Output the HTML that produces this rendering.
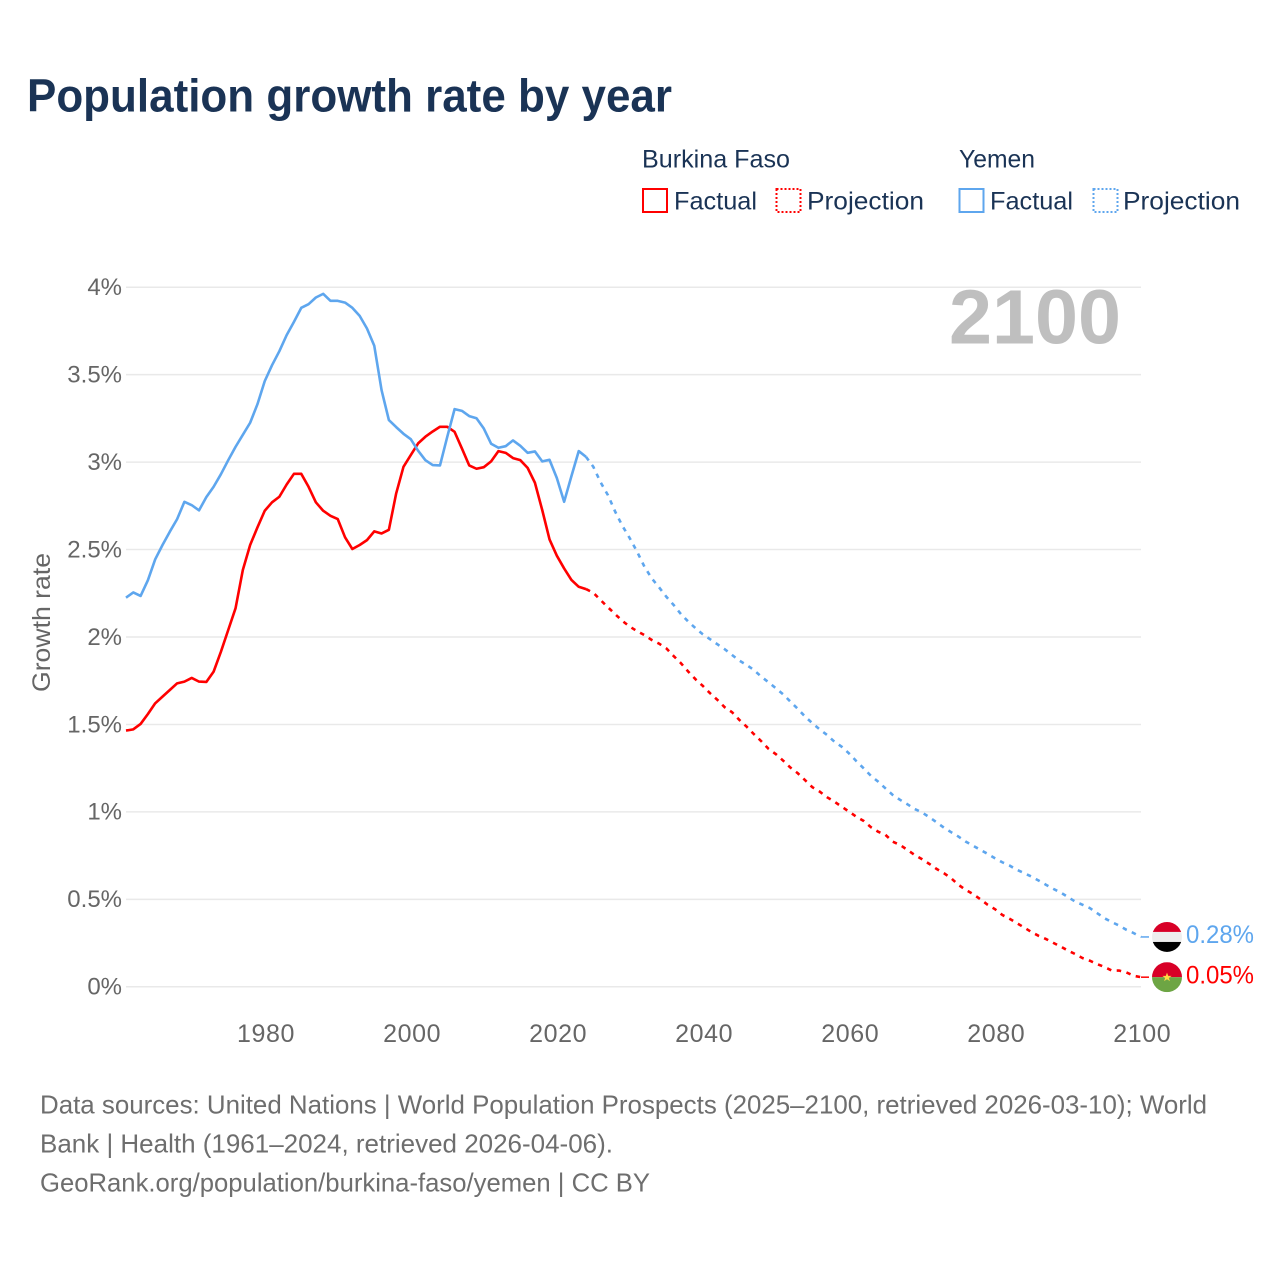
<!DOCTYPE html>
<html lang="en">
<head>
<meta charset="utf-8">
<title>Population growth rate by year</title>
<style>
html,body{margin:0;padding:0;background:#fff}
svg{display:block}
text{font-family:"Liberation Sans",sans-serif}
</style>
</head>
<body>
<svg id="chart" xmlns="http://www.w3.org/2000/svg" width="1280" height="1280" viewBox="0 0 1280 1280">
  <rect x="0" y="0" width="1280" height="1280" fill="#ffffff"/>
  <text x="27" y="111.5" font-size="46" font-weight="700" fill="#1a3355" textLength="645" lengthAdjust="spacingAndGlyphs">Population growth rate by year</text>

  <g font-size="25" fill="#1a3355">
    <text x="642" y="167.5" textLength="148" lengthAdjust="spacingAndGlyphs">Burkina Faso</text>
    <text x="959" y="167.5" textLength="76" lengthAdjust="spacingAndGlyphs">Yemen</text>
    <rect x="643" y="189" width="24" height="23" fill="none" stroke="#ff0000" stroke-width="2"/>
    <text x="674" y="209.5" textLength="83" lengthAdjust="spacingAndGlyphs">Factual</text>
    <rect x="776.5" y="189" width="24" height="23" fill="none" stroke="#ff0000" stroke-width="2" stroke-dasharray="2 2"/>
    <text x="807" y="209.5" textLength="117" lengthAdjust="spacingAndGlyphs">Projection</text>
    <rect x="959.5" y="189" width="24" height="23" fill="none" stroke="#5ea6ee" stroke-width="2"/>
    <text x="990" y="209.5" textLength="83" lengthAdjust="spacingAndGlyphs">Factual</text>
    <rect x="1093.5" y="189" width="24" height="23" fill="none" stroke="#5ea6ee" stroke-width="2" stroke-dasharray="2 2"/>
    <text x="1123" y="209.5" textLength="117" lengthAdjust="spacingAndGlyphs">Projection</text>
  </g>

  <g id="grid"></g>
  <g id="yTicks"></g>
  <g id="xTicks"></g>

  <text transform="translate(50,622.5) rotate(-90)" text-anchor="middle" font-size="25" fill="#666666" textLength="139" lengthAdjust="spacingAndGlyphs">Growth rate</text>
  <text x="949" y="343.5" font-size="77" font-weight="700" fill="#bfbfbf" textLength="172" lengthAdjust="spacingAndGlyphs">2100</text>

  <g id="series"></g>

  <defs>
    <clipPath id="flagClip"><circle cx="0" cy="0" r="15"/></clipPath>
  </defs>
  <g id="flagYemen" clip-path="url(#flagClip)">
    <rect x="-15" y="-15" width="30" height="10" fill="#d80027"/>
    <rect x="-15" y="-5" width="30" height="10" fill="#eeeeee"/>
    <rect x="-15" y="5" width="30" height="10" fill="#000000"/>
  </g>
  <g id="flagBurkina" clip-path="url(#flagClip)">
    <rect x="-15" y="-15" width="30" height="15" fill="#d80027"/>
    <rect x="-15" y="0" width="30" height="15" fill="#6da544"/>
    <polygon points="0,-4.6 1.2,-1.3 4.6,-1.3 1.9,0.8 2.9,4 0,2.1 -2.9,4 -1.9,0.8 -4.6,-1.3 -1.2,-1.3" fill="#ffda44"/>
  </g>
  <text id="endLabelYemen" x="1186" font-size="25" fill="#5ea6ee" textLength="68" lengthAdjust="spacingAndGlyphs"></text>
  <text id="endLabelBurkina" x="1186" font-size="25" fill="#ff0000" textLength="68" lengthAdjust="spacingAndGlyphs"></text>

  <g font-size="26" fill="#6e6e6e">
    <text x="40" y="1113.5" textLength="1167" lengthAdjust="spacingAndGlyphs">Data sources: United Nations | World Population Prospects (2025–2100, retrieved 2026-03-10); World</text>
    <text x="40" y="1152.5" textLength="573" lengthAdjust="spacingAndGlyphs">Bank | Health (1961–2024, retrieved 2026-04-06).</text>
    <text x="40" y="1191.5" textLength="610" lengthAdjust="spacingAndGlyphs">GeoRank.org/population/burkina-faso/yemen | CC BY</text>
  </g>
</svg>
<script>
const firstYear = 1961;
const lastYear = 2100;
const yTickValues = [0, 0.5, 1, 1.5, 2, 2.5, 3, 3.5, 4];
const yTickLabels = ['0%', '0.5%', '1%', '1.5%', '2%', '2.5%', '3%', '3.5%', '4%'];
const xTickYears = [1980, 2000, 2020, 2040, 2060, 2080, 2100];

// Factual: one value per year, 1961-2024
const burkinaFactual = [
  1.465,1.472,1.503,1.56,1.621,1.659,1.697,1.735,1.745,1.766,
  1.745,1.743,1.802,1.916,2.04,2.164,2.383,2.526,2.627,2.722,
  2.77,2.802,2.872,2.933,2.933,2.859,2.77,2.722,2.693,2.674,
  2.57,2.503,2.526,2.554,2.604,2.592,2.613,2.821,2.973,3.04,
  3.107,3.145,3.175,3.202,3.202,3.173,3.078,2.981,2.962,2.971,
  3.004,3.063,3.053,3.023,3.011,2.967,2.882,2.726,2.558,2.465,
  2.392,2.326,2.287,2.274
];
const yemenFactual = [
  2.225,2.255,2.235,2.325,2.444,2.526,2.602,2.674,2.773,2.754,
  2.724,2.8,2.859,2.931,3.011,3.087,3.156,3.225,3.331,3.463,
  3.554,3.634,3.726,3.802,3.882,3.903,3.941,3.962,3.922,3.922,
  3.912,3.882,3.836,3.764,3.665,3.411,3.24,3.2,3.162,3.131,
  3.065,3.011,2.983,2.981,3.145,3.303,3.293,3.263,3.251,3.192,
  3.105,3.082,3.091,3.124,3.093,3.053,3.061,3.004,3.013,2.909,
  2.773,2.92,3.063,3.03
];

// Projection: one value per year, 2025-2100
const burkinaProjection = [
  2.253,2.211,2.17,2.13,2.091,2.059,2.033,2.011,1.983,1.962,
  1.935,1.891,1.85,1.802,1.758,1.72,1.678,1.64,1.598,1.57,
  1.526,1.487,1.444,1.404,1.36,1.33,1.293,1.253,1.221,1.181,
  1.141,1.116,1.084,1.059,1.03,1.002,0.973,0.949,0.913,0.887,
  0.869,0.83,0.811,0.783,0.754,0.73,0.703,0.674,0.65,0.621,
  0.583,0.554,0.53,0.501,0.469,0.444,0.411,0.389,0.364,0.339,
  0.313,0.291,0.273,0.251,0.23,0.207,0.187,0.164,0.149,0.13,
  0.113,0.093,0.093,0.082,0.063,0.055
];
const yemenProjection = [
  2.973,2.884,2.811,2.716,2.634,2.564,2.487,2.402,2.335,2.284,
  2.23,2.183,2.131,2.088,2.05,2.015,1.987,1.958,1.93,1.897,
  1.865,1.84,1.811,1.773,1.741,1.707,1.672,1.63,1.589,1.545,
  1.507,1.472,1.44,1.402,1.373,1.335,1.291,1.25,1.207,1.173,
  1.135,1.097,1.069,1.044,1.017,0.997,0.97,0.941,0.91,0.884,
  0.859,0.83,0.807,0.783,0.76,0.735,0.712,0.693,0.669,0.65,
  0.63,0.607,0.583,0.56,0.539,0.513,0.487,0.469,0.45,0.421,
  0.392,0.37,0.35,0.326,0.307,0.285
];
const burkinaEndLabel = '0.05%';
const yemenEndLabel = '0.28%';

const SVG_NS = 'http://www.w3.org/2000/svg';
const plotLeft = 126;
const plotRight = 1141;
const zeroY = 986.8;
const pxPerPercent = 174.9;
const RED = '#ff0000';
const BLUE = '#5ea6ee';

function xScale(year) {
  return plotLeft + (year - firstYear) * (plotRight - plotLeft) / (lastYear - firstYear);
}
function yScale(value) {
  return zeroY - value * pxPerPercent;
}
function make(tag, attrs, parent) {
  const el = document.createElementNS(SVG_NS, tag);
  for (const k in attrs) el.setAttribute(k, attrs[k]);
  parent.appendChild(el);
  return el;
}
function pointsFrom(startYear, values) {
  return values.map(function (v, i) {
    return xScale(startYear + i).toFixed(2) + ',' + yScale(v).toFixed(2);
  }).join(' ');
}

const gridGroup = document.getElementById('grid');
const yTickGroup = document.getElementById('yTicks');
const xTickGroup = document.getElementById('xTicks');
const seriesGroup = document.getElementById('series');

yTickValues.forEach(function (v, i) {
  const line = make('line', {x1: plotLeft, x2: plotRight, y1: yScale(v), y2: yScale(v), stroke: '#e9e9e9', 'stroke-width': 1.5}, gridGroup);
  
  
  const label = make('text', {x: 122, y: yScale(v) + 7.8, 'text-anchor': 'end', 'font-size': 24, fill: '#666666'}, yTickGroup);
  
  
  label.textContent = yTickLabels[i];
});

xTickYears.forEach(function (year) {
  const label = make('text', {x: xScale(year) + 1.3, y: 1042, 'text-anchor': 'middle', 'font-size': 25, 'letter-spacing': 0.6, fill: '#666666'}, xTickGroup);
  
  
  label.textContent = String(year);
});

function drawSeries(factual, projection, color) {
  const joined = [factual[factual.length - 1]].concat(projection);
  const projectionStart = firstYear + factual.length - 1;
  const dashed = make('polyline', {points: pointsFrom(projectionStart, joined), fill: 'none', stroke: color, 'stroke-width': 2.6, 'stroke-dasharray': '4.5 5.5'}, seriesGroup);
  
  
  const solid = make('polyline', {points: pointsFrom(firstYear, factual), fill: 'none', stroke: color, 'stroke-width': 2.6, 'stroke-linejoin': 'round'}, seriesGroup);
  
  
  const endValue = projection[projection.length - 1];
  const connector = make('line', {x1: xScale(lastYear), x2: xScale(lastYear) + 8, y1: yScale(endValue), y2: yScale(endValue), stroke: color, 'stroke-width': 1.5}, seriesGroup);
  
  
  return endValue;
}

const burkinaEnd = drawSeries(burkinaFactual, burkinaProjection, RED);
const yemenEnd = drawSeries(yemenFactual, yemenProjection, BLUE);

document.getElementById('flagYemen').setAttribute('transform', 'translate(1167,' + yScale(yemenEnd) + ')');
document.getElementById('flagBurkina').setAttribute('transform', 'translate(1167,' + yScale(burkinaEnd) + ')');
const yemenLabelEl = document.getElementById('endLabelYemen');
yemenLabelEl.setAttribute('y', yScale(yemenEnd) + 6.2);
yemenLabelEl.textContent = yemenEndLabel;
const burkinaLabelEl = document.getElementById('endLabelBurkina');
burkinaLabelEl.setAttribute('y', yScale(burkinaEnd) + 6.3);
burkinaLabelEl.textContent = burkinaEndLabel;
</script>
</body>
</html>
